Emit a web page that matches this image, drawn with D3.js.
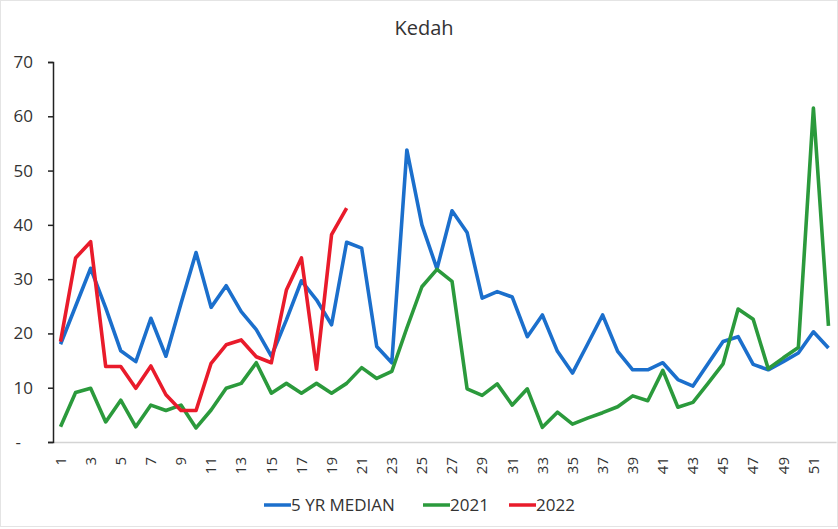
<!DOCTYPE html>
<html lang="en">
<head>
<meta charset="UTF-8" />
<script src="https://d3js.org/d3.v7.min.js"></script>
<title>Kedah</title>
<style>
    body { margin: 0; background: #fff; }
    text { font-family: "Open Sans", "Noto Sans", sans-serif; fill: #333; }
    .yAxis path, .yAxis line { stroke: #222; stroke-width: 1.5; }
    .xAxis path { stroke: #d4d4d4; stroke-width: 1.5; }
    .xAxis line { display: none; }
</style>
</head>
<body>
<script>
    const weeks = d3.range(1, 53);
    const median5yr = [18, 25, 32, 24.7, 16.8, 14.8, 22.8, 15.8, 25.5, 34.9,
        24.8, 28.8, 24, 20.7, 15.8, 22.5, 29.7, 26.2, 21.6, 36.8,
        35.7, 17.6, 14.6, 53.8, 40, 31.9, 42.6, 38.6, 26.5, 27.7,
        26.7, 19.4, 23.4, 16.7, 12.7, 18, 23.4, 16.7, 13.3, 13.3,
        14.6, 11.5, 10.3, 14.4, 18.5, 19.4, 14.3, 13.3, 14.8, 16.4,
        20.3, 17.3];
    const y2021 = [2.8, 9.1, 9.9, 3.7, 7.7, 2.8, 6.8, 5.8, 6.8, 2.6,
        5.9, 9.9, 10.8, 14.6, 9, 10.8, 9, 10.8, 9, 10.8,
        13.7, 11.7, 13, 21, 28.6, 31.8, 29.6, 9.8, 8.6, 10.7,
        6.8, 9.8, 2.7, 5.5, 3.3, 4.4, 5.4, 6.5, 8.5, 7.6,
        13.2, 6.4, 7.3, 10.8, 14.4, 24.5, 22.6, 13.5, 15.5, 17.4,
        61.5, 21.4];
    const y2022 = [18.5, 33.9, 36.9, 13.9, 13.9, 9.9, 14, 8.7, 5.8, 5.8,
        14.5, 17.9, 18.8, 15.7, 14.6, 28, 33.9, 13.4, 38.2, 43.1];
    const yTicks = [0, 10, 20, 30, 40, 50, 60, 70];
    const seriesNames = ["5 YR MEDIAN", "2021", "2022"];
    const seriesColors = ["#1b6fcc", "#2b9a3c", "#e91b2b"];

    const series = [median5yr, y2021, y2022].map((vals, i) => ({
        name: seriesNames[i],
        color: seriesColors[i],
        values: vals.map((v, j) => ({ week: weeks[j], value: v }))
    }));

    const svg = d3.select("body").append("svg")
        .attr("width", 838)
        .attr("height", 529);

    // faint frame of the scanned chart
    svg.append("rect")
        .attr("x", 0.5).attr("y", 0.5)
        .attr("width", 837).attr("height", 526)
        .attr("fill", "none")
        .attr("stroke", "#e4e4e4");

    const scaleX = d3.scaleBand().domain(weeks).range([53, 836]);
    const scaleY = d3.scaleLinear().domain([0, 70]).range([442, 62]);
    const cx = d => scaleX(d) + scaleX.bandwidth() / 2;

    const axisX = d3.axisBottom(scaleX)
        .tickSize(0)
        .tickFormat(d => (d % 2 === 1 ? d : ""));
    const gX = svg.append("g")
        .attr("transform", "translate(0,442)")
        .classed("xAxis", true);
    axisX(gX);
    gX.selectAll("text")
        .attr("font-size", 15)
        .attr("text-anchor", "end")
        .attr("transform", "rotate(-90)")
        .attr("x", -15)
        .attr("y", 0)
        .attr("dy", "0.35em");

    const axisY = d3.axisLeft(scaleY)
        .tickValues(yTicks)
        .tickSize(5)
        .tickPadding(15)
        .tickFormat(d => (d === 0 ? "-" : d));
    const gY = svg.append("g")
        .attr("transform", "translate(53,0)")
        .classed("yAxis", true);
    axisY(gY);
    gY.selectAll("text").attr("font-size", 17).attr("fill", "#333");
    gY.selectAll(".tick").filter(d => d === 0).select("text").attr("dx", -12);

    const line = d3.line()
        .x(d => cx(d.week))
        .y(d => scaleY(d.value));

    svg.append("g").selectAll("path")
        .data(series)
        .join("path")
        .attr("d", d => line(d.values))
        .attr("fill", "none")
        .attr("stroke", d => d.color)
        .attr("stroke-width", 3.6)
        .attr("stroke-linejoin", "round");

    svg.append("text")
        .attr("x", 424)
        .attr("y", 35)
        .attr("text-anchor", "middle")
        .attr("font-size", 20)
        .text("Kedah");

    // legend
    const legendX = [264, 423, 509];
    const gLegend = svg.append("g");
    const item = gLegend.selectAll("g").data(series).join("g")
        .attr("transform", (d, i) => `translate(${legendX[i]},505)`);
    item.append("line")
        .attr("x1", 0).attr("x2", 27)
        .attr("stroke", d => d.color)
        .attr("stroke-width", 3.5);
    item.append("text")
        .attr("x", 27)
        .attr("y", 0)
        .attr("dy", "0.35em")
        .attr("font-size", 17)
        .text(d => d.name);
</script>
</body>
</html>
